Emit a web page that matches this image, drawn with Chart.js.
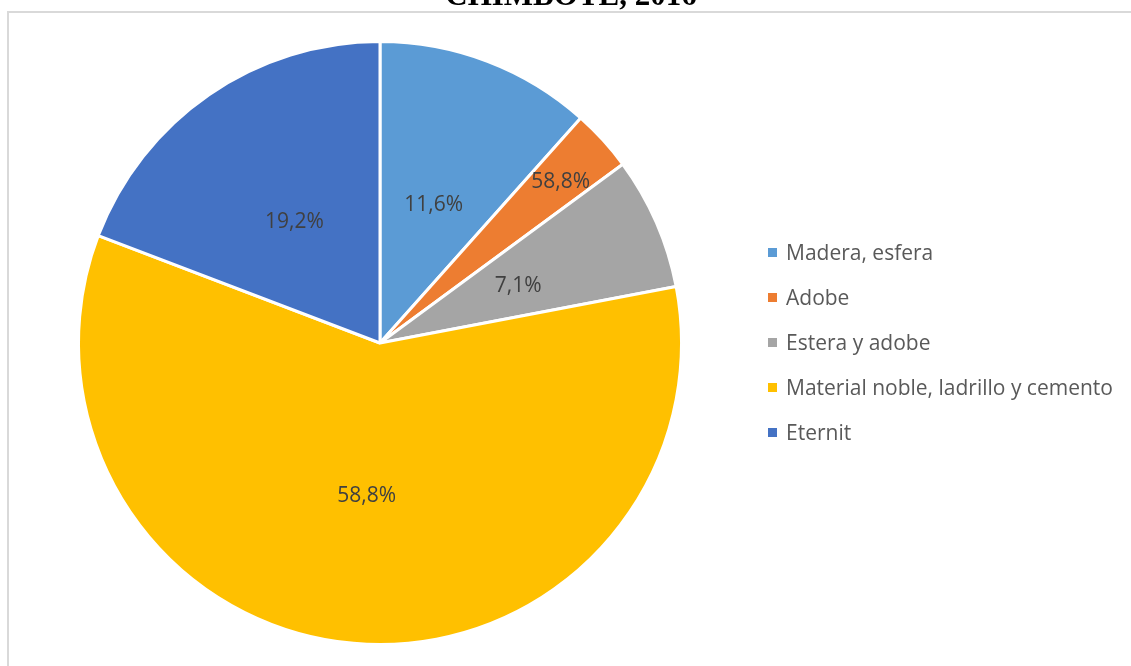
<!DOCTYPE html>
<html lang="es">
<head>
<meta charset="utf-8">
<title>Material de techo - Chimbote, 2016</title>
<script src="https://cdn.jsdelivr.net/npm/chart.js@4.4.1/dist/chart.umd.min.js"></script>
<style>
    html, body { margin: 0; padding: 0; background: #ffffff; overflow: hidden; }
    #contenedor { position: relative; width: 1131px; height: 666px; }
    #marco {
        position: absolute; left: 7px; top: 11px; right: 0; bottom: 0;
        border-left: 2px solid #d9d9d9; border-top: 2px solid #d9d9d9;
    }
    canvas { position: absolute; left: 0; top: 0; }
</style>
</head>
<body>
<div id="contenedor">
    <div id="marco"></div>
    <canvas id="grafico-techo" width="1131" height="666"></canvas>
</div>
<script>
// Datos del gráfico
const categorias = ['Madera, esfera', 'Adobe', 'Estera y adobe', 'Material noble, ladrillo y cemento', 'Eternit'];
const porcentajes = [11.6, 3.3, 7.1, 58.8, 19.2];
const etiquetas = ['11,6%', '58,8%', '7,1%', '58,8%', '19,2%'];
const colores = ['#5b9bd5', '#ed7d31', '#a5a5a5', '#ffc000', '#4472c4'];
const titulo = 'CHIMBOTE, 2016';

// Título (cortado por el borde superior de la página)
const pluginTitulo = {
    id: 'tituloSuperior',
    afterDraw(chart) {
        const ctx = chart.ctx;
        ctx.save();
        ctx.font = 'bold 31px "Liberation Serif", "Times New Roman", serif';
        ctx.fillStyle = '#000000';
        ctx.textAlign = 'center';
        ctx.textBaseline = 'alphabetic';
        ctx.fillText(titulo, 571, 5);
        ctx.restore();
    }
};

// Etiquetas de porcentaje dentro de cada porción
const pluginEtiquetas = {
    id: 'etiquetasPorcion',
    afterDatasetsDraw(chart, args, opts) {
        const ctx = chart.ctx;
        const arcos = chart.getDatasetMeta(0).data;
        ctx.save();
        ctx.font = '21px "Open Sans", sans-serif';
        ctx.fillStyle = '#404040';
        ctx.textAlign = 'center';
        ctx.textBaseline = 'middle';
        arcos.forEach((arco, i) => {
            const p = arco.getProps(['x', 'y', 'startAngle', 'endAngle', 'outerRadius']);
            const medio = (p.startAngle + p.endAngle) / 2;
            const r = p.outerRadius * (opts.distancias[i] || 0.5);
            ctx.fillText(etiquetas[i], p.x + Math.cos(medio) * r, p.y + Math.sin(medio) * r + 3);
        });
        ctx.restore();
    }
};

// Leyenda a la derecha del gráfico
const pluginLeyenda = {
    id: 'leyendaDerecha',
    afterDraw(chart) {
        const ctx = chart.ctx;
        ctx.save();
        ctx.font = '21px "Open Sans", sans-serif';
        ctx.textBaseline = 'middle';
        categorias.forEach((nombre, i) => {
            const y = 252 + i * 45;
            ctx.fillStyle = colores[i];
            ctx.fillRect(768, y - 4, 9, 9);
            ctx.fillStyle = '#595959';
            ctx.fillText(nombre, 786, y + 2);
        });
        ctx.restore();
    }
};

const ctx = document.getElementById('grafico-techo').getContext('2d');
const graficoTecho = new Chart(ctx, {
    type: 'pie',
    data: {
        labels: categorias,
        datasets: [{
            data: porcentajes,
            backgroundColor: colores,
            borderColor: '#ffffff',
            borderWidth: 3
        }]
    },
    options: {
        responsive: false,
        animation: false,
        layout: {
            padding: { left: 77, top: 40, right: 448, bottom: 20 }
        },
        plugins: {
            legend: { display: false },
            tooltip: { enabled: false },
            etiquetasPorcion: { distancias: [0.5, 0.81, 0.5, 0.5, 0.5] }
        }
    },
    plugins: [pluginTitulo, pluginEtiquetas, pluginLeyenda]
});
</script>
</body>
</html>
